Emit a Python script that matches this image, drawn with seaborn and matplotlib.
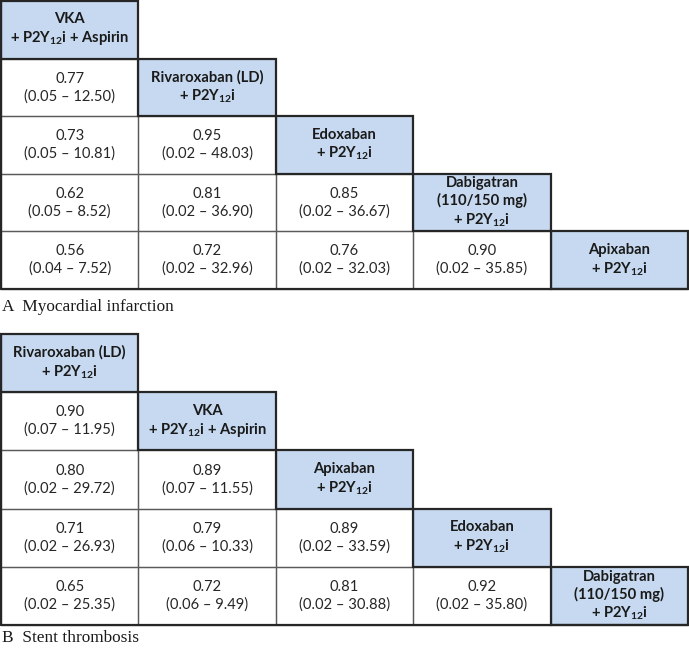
import numpy as np
import pandas as pd
import seaborn as sns
import matplotlib
matplotlib.use("Agg")
import matplotlib.pyplot as plt
from matplotlib.patches import Rectangle
from matplotlib.colors import ListedColormap

# ---------------- data ----------------
A_title = "A  Myocardial infarction"
A_labels = ["VKA\n+ P2Y$_\\mathbf{12}$i + Aspirin",
            "Rivaroxaban (LD)\n+ P2Y$_\\mathbf{12}$i",
            "Edoxaban\n+ P2Y$_\\mathbf{12}$i",
            "Dabigatran\n(110/150 mg)\n+ P2Y$_\\mathbf{12}$i",
            "Apixaban\n+ P2Y$_\\mathbf{12}$i"]
A_est = [[0.77], [0.73, 0.95], [0.62, 0.81, 0.85], [0.56, 0.72, 0.76, 0.90]]
A_lo = [[0.05], [0.05, 0.02], [0.05, 0.02, 0.02], [0.04, 0.02, 0.02, 0.02]]
A_hi = [[12.50], [10.81, 48.03], [8.52, 36.90, 36.67], [7.52, 32.96, 32.03, 35.85]]

B_title = "B  Stent thrombosis"
B_labels = ["Rivaroxaban (LD)\n+ P2Y$_\\mathbf{12}$i",
            "VKA\n+ P2Y$_\\mathbf{12}$i + Aspirin",
            "Apixaban\n+ P2Y$_\\mathbf{12}$i",
            "Edoxaban\n+ P2Y$_\\mathbf{12}$i",
            "Dabigatran\n(110/150 mg)\n+ P2Y$_\\mathbf{12}$i"]
B_est = [[0.90], [0.80, 0.89], [0.71, 0.79, 0.89], [0.65, 0.72, 0.81, 0.92]]
B_lo = [[0.07], [0.02, 0.07], [0.02, 0.06, 0.02], [0.02, 0.06, 0.02, 0.02]]
B_hi = [[11.95], [29.72, 11.55], [26.93, 10.33, 33.59], [25.35, 9.49, 30.88, 35.80]]

HEADER = "#C6D9F0"
DARK = "#262626"
THIN = "#5a5a5a"

sns.set_theme(style="white")
plt.rcParams["font.family"] = ["Lato", "DejaVu Sans"]
plt.rcParams["mathtext.fontset"] = "custom"
plt.rcParams["mathtext.rm"] = "Lato"
plt.rcParams["mathtext.bf"] = "Lato:bold"
plt.rcParams["mathtext.it"] = "Lato:italic"

W, H = 689, 648
fig = plt.figure(figsize=(W / 100, H / 100), dpi=100)
FS = 10.6


def league(ax, labels, est, lo, hi):
    n = len(labels)
    mat = np.full((n, n), np.nan)
    for i in range(n):
        mat[i, i] = 1.0
        for j in range(i):
            mat[i, j] = 0.0
    mask = np.isnan(mat)
    df = pd.DataFrame(mat)
    sns.heatmap(df, mask=mask, cmap=ListedColormap(["white", HEADER]),
                vmin=0, vmax=1, cbar=False, linewidths=0,
                xticklabels=False, yticklabels=False, ax=ax)
    for i in range(n):
        for j in range(i):
            ax.add_patch(Rectangle((j, i), 1, 1, fill=False, edgecolor=THIN,
                                   lw=0.9, zorder=4, clip_on=False))
    for i in range(n):
        ax.add_patch(Rectangle((i, i), 1, 1, fill=False, edgecolor=DARK,
                               lw=1.6, zorder=5, clip_on=False))
        ax.text(i + 0.5, i + 0.5, labels[i], ha="center", va="center",
                fontsize=FS, fontweight="bold", color="#1a1a1a",
                linespacing=1.25, zorder=6)
        for j in range(i):
            txt = f"{est[i-1][j]:.2f}\n({lo[i-1][j]:.2f} \u2013 {hi[i-1][j]:.2f})"
            ax.text(j + 0.5, i + 0.5, txt, ha="center", va="center",
                    fontsize=FS, color="#262626", linespacing=1.3, zorder=6)
    # outer border (left and bottom)
    ax.plot([0, 0], [0, n], color=DARK, lw=1.6, zorder=5, clip_on=False)
    ax.plot([0, n], [n, n], color=DARK, lw=1.6, zorder=5, clip_on=False)
    for s in ax.spines.values():
        s.set_visible(False)
    ax.set_xlabel("")
    ax.set_ylabel("")


# Table A
axA = fig.add_axes([1 / W, (H - 289) / H, 687 / W, 288 / H])
league(axA, A_labels, A_est, A_lo, A_hi)
fig.text(2 / W, (H - 307) / H, A_title, ha="left", va="center",
         fontsize=12.4, family="Liberation Serif", color="#1a1a1a")

# Table B
axB = fig.add_axes([1 / W, (H - 625) / H, 687 / W, 291 / H])
league(axB, B_labels, B_est, B_lo, B_hi)
fig.text(2 / W, (H - 638) / H, B_title, ha="left", va="center",
         fontsize=12.4, family="Liberation Serif", color="#1a1a1a")

fig.savefig("out.png", dpi=100)
